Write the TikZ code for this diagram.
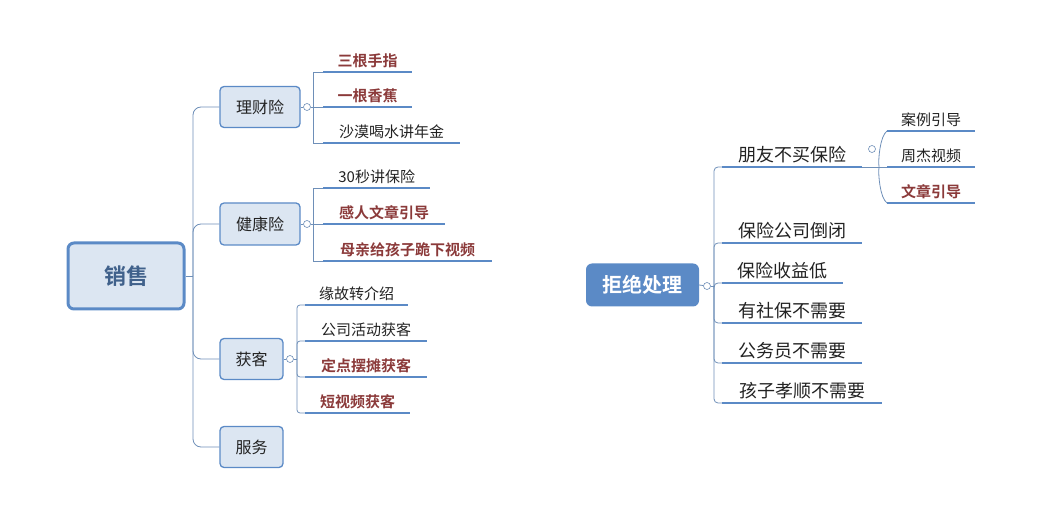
\documentclass[tikz,border=0pt]{standalone}
\usepackage{fontspec}
\setmainfont{Noto Sans CJK SC}
\newfontfamily\cjkb{Noto Sans CJK SC Bold}
\definecolor{bl}{HTML}{5B8AC6}
\definecolor{fillb}{HTML}{DCE6F2}
\definecolor{ln}{HTML}{6E8FB8}
\definecolor{rd}{HTML}{8B3A3A}
\definecolor{tx}{HTML}{222222}
\tikzset{
 cbox/.style={draw=bl,line width=1.3pt,fill=fillb,rounded corners=4pt,font=\fontsize{16}{16}\selectfont,text=tx},
 conn/.style={draw=ln,line width=0.8pt,rounded corners=8pt},
 uline/.style={draw=bl,line width=2.2pt},
 lf/.style={anchor=south west,inner xsep=12pt,inner ysep=4pt,text=tx,font=\fontsize{15}{15}\selectfont},
 lfr/.style={lf,text=rd,font=\cjkb\fontsize{15}{15}\selectfont},
 rf/.style={lf,font=\fontsize{18}{18}\selectfont,inner xsep=14pt},
 tog/.style={circle,draw=ln,fill=white,line width=0.6pt,inner sep=0pt,minimum size=7pt}
}
\newcommand{\leafn}[6]{\node[#5,minimum width=#4pt] (#1) at (#2,#3) {#6};
 \draw[uline] (#1.south west) -- (#1.south east);}
\begin{document}
\begin{tikzpicture}[x=1pt,y=-1pt]
\useasboundingbox (0,0) rectangle (1050,518);
% left
\node[cbox,line width=3pt,rounded corners=6pt,minimum width=116pt,minimum height=66pt,font=\cjkb\fontsize{22}{22}\selectfont,text=bl!70!black] (xs) at (126,276) {销售};
\node[cbox,minimum width=80pt,minimum height=41pt] (lc) at (260,107) {理财险};
\node[cbox,minimum width=80pt,minimum height=42pt] (jk) at (260,224) {健康险};
\node[cbox,minimum width=63pt,minimum height=41pt] (hk) at (251.5,359) {获客};
\node[cbox,minimum width=63pt,minimum height=41pt] (fw) at (251.5,447) {服务};
\coordinate (t0) at (193,276);
\draw[conn] (xs.east) -- (t0);
\foreach \n in {lc,jk,hk,fw}{\draw[conn] (t0) |- (\n.west);}
% 理财险 leaves
\leafn{a1}{323}{72}{89}{lfr}{三根手指}
\leafn{a2}{323}{107}{89}{lfr}{一根香蕉}
\leafn{a3}{323}{143}{137}{lf}{沙漠喝水讲年金}
\node[tog] (ta) at (307,107) {};
\draw[conn] (lc.east) -- (ta);
\coordinate (va) at (313,107);
\draw[conn] (ta) -- (va);
\foreach \n in {a1,a2,a3}{\draw[conn,rounded corners=0pt] (va) |- (\n.south west);}
% 健康险
\leafn{b1}{323}{188}{107}{lf}{30秒讲保险}
\leafn{b2}{323}{224}{122}{lfr}{感人文章引导}
\leafn{b3}{323}{261}{169}{lfr}{母亲给孩子跪下视频}
\node[tog] (tb) at (307,224) {};
\draw[conn] (jk.east) -- (tb);
\coordinate (vb) at (313,224);
\draw[conn] (tb) -- (vb);
\foreach \n in {b1,b2,b3}{\draw[conn,rounded corners=0pt] (vb) |- (\n.south west);}
% 获客
\leafn{c1}{305}{305}{103}{lf}{缘故转介绍}
\leafn{c2}{305}{341}{122}{lf}{公司活动获客}
\leafn{c3}{305}{377}{122}{lfr}{定点摆摊获客}
\leafn{c4}{305}{413}{105}{lfr}{短视频获客}
\node[tog] (tc) at (290,359) {};
\draw[conn] (hk.east) -- (tc);
\coordinate (vc) at (297,359);
\draw[conn] (tc) -- (vc);
\foreach \n in {c1,c2,c3,c4}{\draw[conn,rounded corners=3pt] (vc) |- (\n.south west);}
% right
\node[fill=bl,rounded corners=6pt,minimum width=113pt,minimum height=43pt,text=white,font=\cjkb\fontsize{20}{20}\selectfont] (jj) at (642.5,285) {拒绝处理};
\node[tog] (tj) at (707,286) {};
\draw[conn] (jj.east) -- (tj);
\coordinate (vj) at (714,286);
\draw[conn] (tj) -- (vj);
\leafn{r1}{722}{167}{140}{rf}{朋友不买保险}
\leafn{r2}{722}{243}{140}{rf}{保险公司倒闭}
\leafn{r3}{722}{283}{121}{rf}{保险收益低}
\leafn{r4}{722}{323}{140}{rf}{有社保不需要}
\leafn{r5}{722}{363}{140}{rf}{公务员不需要}
\leafn{r6}{722}{403}{160}{rf}{孩子孝顺不需要}
\foreach \n in {r1,r2,r3,r4,r5,r6}{\draw[conn,rounded corners=4pt] (vj) |- (\n.south west);}
% sub
\leafn{s1}{887}{131}{88}{lf}{案例引导}
\leafn{s2}{887}{167}{88}{lf}{周杰视频}
\leafn{s3}{887}{203}{88}{lfr}{文章引导}
\node[tog] (ts) at (872,149) {};
\draw[conn] (r1.south east) -- (s2.south west);
\draw[conn,rounded corners=0pt] (s1.south west) .. controls (880,136) and (878,160) .. (879,167) .. controls (878,174) and (880,198) .. (s3.south west);
\end{tikzpicture}
\end{document}
